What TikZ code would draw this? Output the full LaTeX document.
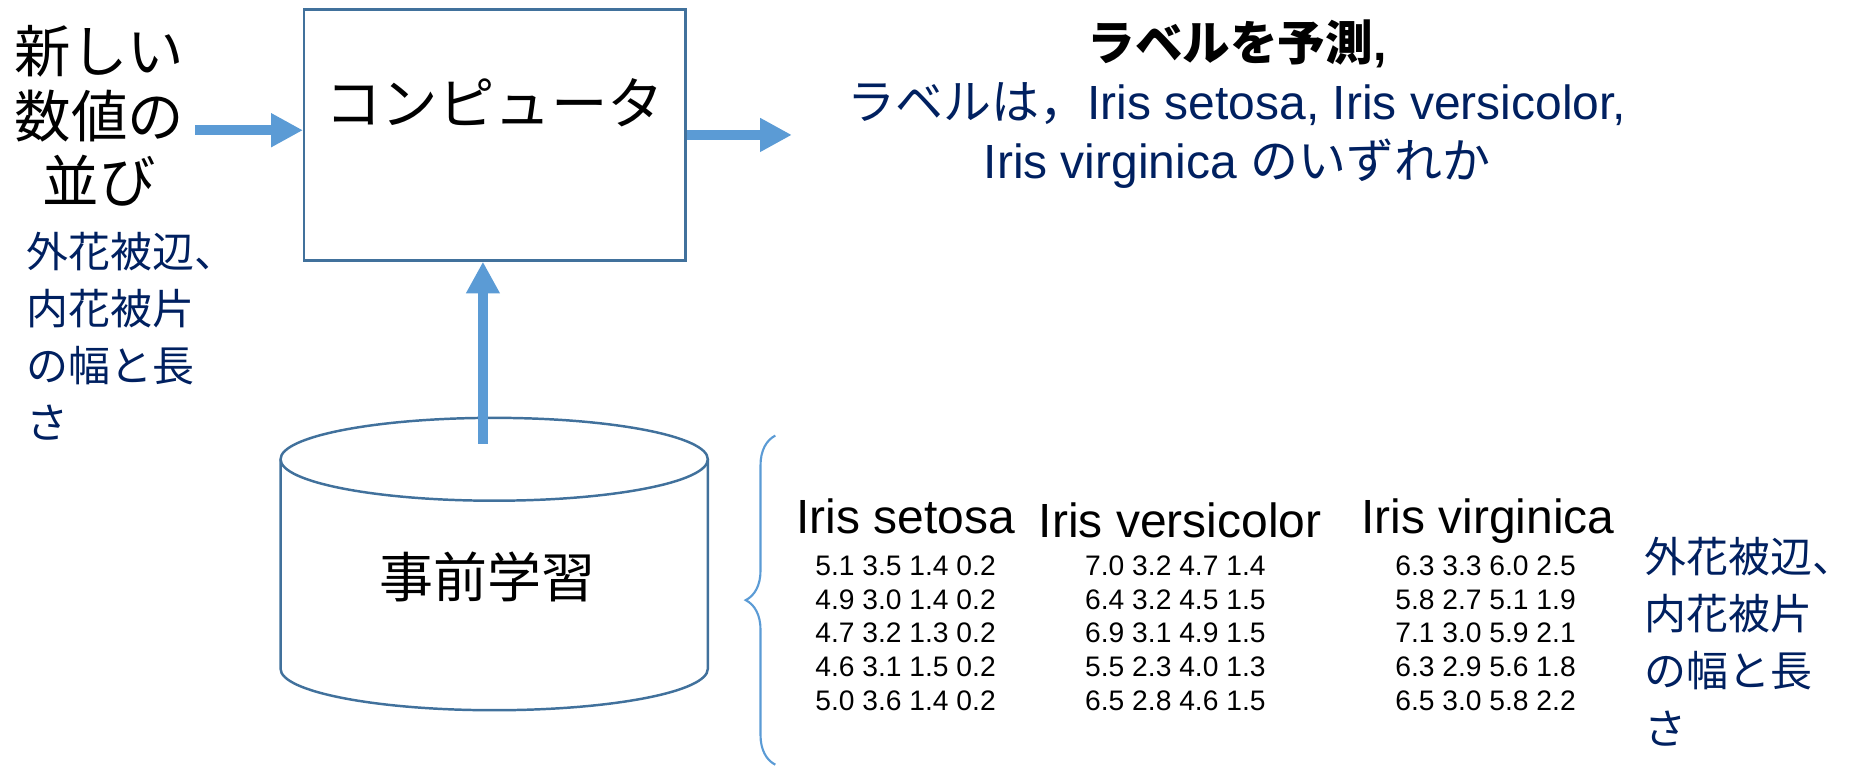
\documentclass[tikz,border=0pt]{standalone}
\usepackage{fontspec}
\setmainfont{Liberation Sans}
\newfontfamily\jp{Noto Sans CJK JP}
\usetikzlibrary{arrows.meta,decorations.pathreplacing}
\definecolor{darkblue}{RGB}{0,32,96}
\definecolor{boxblue}{RGB}{65,113,156}
\definecolor{arrowblue}{RGB}{91,155,213}
\newcommand{\pxu}{0.0118cm}

\tikzset{
  fatarrow/.style={arrowblue, line width=2.8pt, -{Triangle[length=9pt,width=9pt]}},
  frame/.style={draw=boxblue, line width=0.7pt},
  txt/.style={inner sep=0pt},
  feature/.style={txt, darkblue, align=left, font=\jp\fontsize{11.9}{16.2}\selectfont},
  header/.style={txt, anchor=base, font=\fontsize{13.6}{16}\selectfont},
  rows/.style={txt, align=center, font=\fontsize{8}{9.5}\selectfont},
}

\begin{document}
\begin{tikzpicture}[x=\pxu, y=-\pxu]
\useasboundingbox (0,0) rectangle (1568,648);

% computer
\node[frame, minimum width=322*\pxu, minimum height=212*\pxu] (comp) at (418,114) {};
\node[txt, font=\jp\fontsize{16}{18}\selectfont] (complbl) at (418,87) {コンピュータ};

% input
\node[txt, align=center, font=\jp\fontsize{16}{18.5}\selectfont] (newdata) at (84,98) {新しい\\数値の\\並び};
\node[feature, anchor=west] (featL) at (22,284) {外花被辺、\\内花被片\\の幅と長\\さ};
\coordinate (inbeg) at (165,110);
\draw[fatarrow] (inbeg) -- (comp.west |- inbeg);

% output
\coordinate (outend) at (669,114);
\draw[fatarrow] (comp.east |- outend) -- (outend);
\node[txt, align=center, font=\fontsize{13.6}{16.8}\selectfont] (pred) at (1045,88)
  {{\jp\bfseries\fontsize{13.5}{16.8}\selectfont ラベルを予測}\textbf{,}\\
   \textcolor{darkblue}{{\jp ラベルは，}Iris setosa, Iris versicolor,}\\
   \textcolor{darkblue}{Iris virginica {\jp のいずれか}}};

% pre-training db
\draw[frame] (417.5,388) ellipse [x radius=180.5, y radius=35];
\draw[frame] (237,388) -- (237,565) arc[start angle=180, end angle=0, x radius=180.5, y radius=35] -- (598,388);
\node[txt, font=\jp\fontsize{15.3}{18}\selectfont] (pretrain) at (412,487) {事前学習};
\coordinate (trainbeg) at (408,375);
\draw[fatarrow] (trainbeg) -- (comp.south -| trainbeg);

% training data
\coordinate (bracetop) at (655,368);
\coordinate (bracebot) at (655,646);
\draw[arrowblue, line width=0.6pt, decorate, decoration={brace, amplitude=25*\pxu}] (bracebot) -- (bracetop);

\node[header] (setosa) at (765,451) {Iris setosa};
\node[header] (versicolor) at (997,454) {Iris versicolor};
\node[header] (virginica) at (1257,451) {Iris virginica};

\node[rows] (setosadat) at (765,535) {5.1 3.5 1.4 0.2\\4.9 3.0 1.4 0.2\\4.7 3.2 1.3 0.2\\4.6 3.1 1.5 0.2\\5.0 3.6 1.4 0.2};
\node[rows] (versidat) at (993,535) {7.0 3.2 4.7 1.4\\6.4 3.2 4.5 1.5\\6.9 3.1 4.9 1.5\\5.5 2.3 4.0 1.3\\6.5 2.8 4.6 1.5};
\node[rows] (virgidat) at (1255,535) {6.3 3.3 6.0 2.5\\5.8 2.7 5.1 1.9\\7.1 3.0 5.9 2.1\\6.3 2.9 5.6 1.8\\6.5 3.0 5.8 2.2};

\node[feature, anchor=west] (featR) at (1389,542) {外花被辺、\\内花被片\\の幅と長\\さ};

\end{tikzpicture}
\end{document}
